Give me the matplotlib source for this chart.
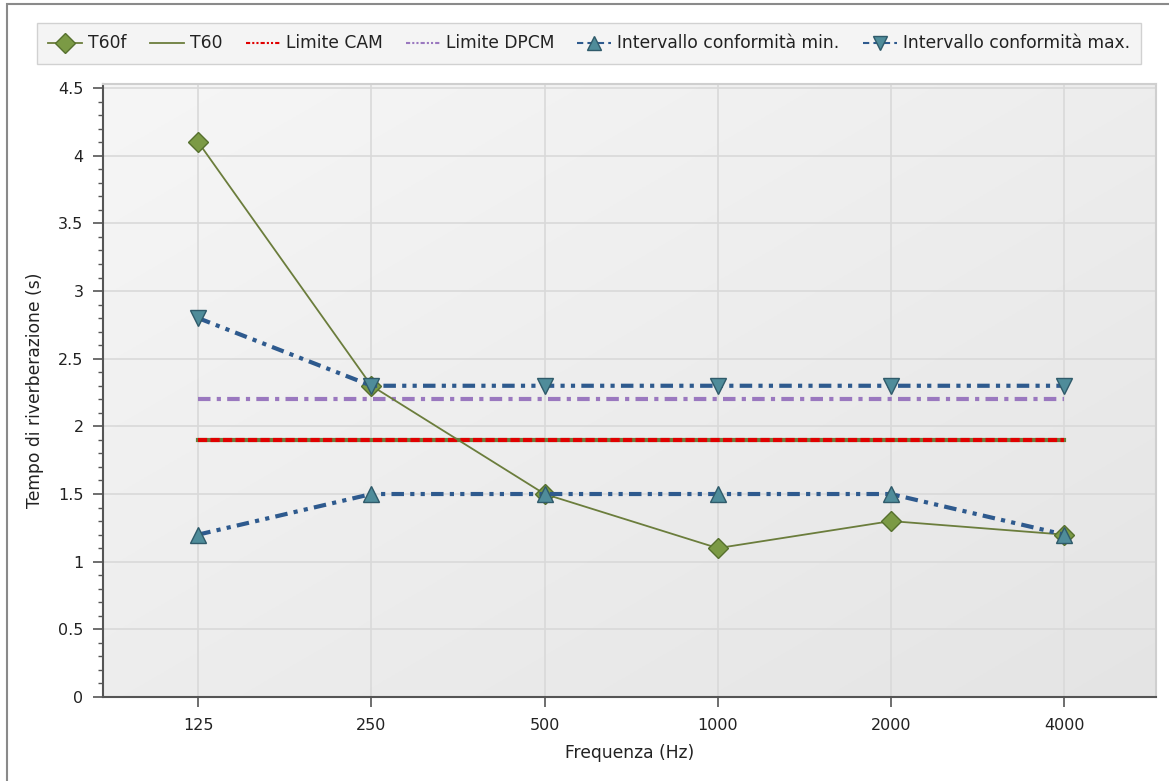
import matplotlib
matplotlib.use("Agg")
import matplotlib.pyplot as plt
import numpy as np
from matplotlib.lines import Line2D
from matplotlib.patches import Rectangle
from matplotlib.ticker import MultipleLocator, FuncFormatter

freqs = ["125", "250", "500", "1000", "2000", "4000"]
t60 = [4.1, 2.3, 1.5, 1.1, 1.3, 1.2]
lim_cam = [1.9, 1.9, 1.9, 1.9, 1.9, 1.9]
lim_dpcm = [2.2, 2.2, 2.2, 2.2, 2.2, 2.2]
conf_min = [1.2, 1.5, 1.5, 1.5, 1.5, 1.2]
conf_max = [2.8, 2.3, 2.3, 2.3, 2.3, 2.3]

plt.rcParams['font.family'] = ['DejaVu Sans']
W, H = 1169, 781
fig = plt.figure(figsize=(W/100, H/100), dpi=100)

# outer border (left and top visible)
fig.patches.append(Rectangle((7/W, -0.01), 1.02, 1 - 4/H + 0.01, transform=fig.transFigure,
                             fill=False, edgecolor='#8a8a8a', lw=1.5))

L, R, T, B = 103, 1156, 84, 697
ax = fig.add_axes([L/W, 1 - B/H, (R-L)/W, (B-T)/H])

x = np.arange(len(freqs))

# gradient background (light top-left, darker bottom-right)
grad = np.linspace(0, 1, 256)
gx, gy = np.meshgrid(grad, grad)
g = 0.5*gx + 0.5*gy
img = np.empty((256, 256, 3))
c0, c1 = 0.965, 0.895
for c in range(3):
    img[..., c] = c0 + (c1 - c0) * g

ax.imshow(img, extent=[0, 1, 0, 1], transform=ax.transAxes, aspect='auto', zorder=0, origin='upper')
ax.set_xlim(-0.55, 5.53)
ax.set_ylim(0, 4.53)
ax.set_xticks(x)
ax.set_xticklabels(freqs)
ax.yaxis.set_major_locator(MultipleLocator(0.5))
ax.yaxis.set_minor_locator(MultipleLocator(0.1))
ax.yaxis.set_major_formatter(FuncFormatter(lambda v, p: f"{v:g}"))
ax.grid(True, color='#d9d9d9', lw=1.2, zorder=1)
ax.set_axisbelow(True)

for s in ['top', 'right']:
    ax.spines[s].set_color('#cfcfcf')
    ax.spines[s].set_linewidth(1.5)
for s in ['left', 'bottom']:
    ax.spines[s].set_color('#555555')
    ax.spines[s].set_linewidth(1.5)
ax.tick_params(axis='both', which='major', length=7, width=1.2, color='#555555',
               labelsize=11.5, labelcolor='#222222')
ax.tick_params(axis='y', which='major', pad=7)
ax.tick_params(axis='y', which='minor', length=3.6, width=1, color='#555555')
ax.tick_params(axis='x', pad=8)

olive = '#6b7d3c'
blue = '#2e5a8e'
dd = (3, 1.5, 1, 1.5, 1, 1.5)

# Limite CAM (olive under red)
ax.plot(x, lim_cam, color=olive, lw=3, zorder=3)
ax.plot(x, lim_cam, color='#e00000', lw=3, dashes=(2.2, 0.8), zorder=3.1)
# Limite DPCM
ax.plot(x, lim_dpcm, color='#9a78bf', lw=3, dashes=(3, 1.5, 1, 1.5), zorder=3)
# T60 line
ax.plot(x, t60, color=olive, lw=1.3, zorder=4)
# T60f markers
ax.plot(x, t60, ls='none', marker='D', ms=10, mfc='#7b9a45', mec='#56702e', mew=1, zorder=5)
# conformity intervals
ax.plot(x, conf_min, color=blue, lw=3, dashes=dd, marker='^', ms=11,
        mfc='#4f8c9a', mec='#2f5a6a', mew=1, zorder=6)
ax.plot(x, conf_max, color=blue, lw=3, dashes=dd, marker='v', ms=11,
        mfc='#4f8c9a', mec='#2f5a6a', mew=1, zorder=6)

ax.set_ylabel("Tempo di riverberazione (s)", fontsize=12.3, color='#222222', labelpad=10)
ax.set_xlabel("Frequenza (Hz)", fontsize=12.3, color='#222222', labelpad=8)

handles = [
    Line2D([], [], color=olive, lw=1.3, marker='D', ms=10, mfc='#7b9a45', mec='#56702e'),
    Line2D([], [], color=olive, lw=1.3),
    Line2D([], [], color='#e00000', lw=1.5, dashes=(2, 1, 1, 1, 1, 1)),
    Line2D([], [], color='#9a78bf', lw=1.5, dashes=(2, 1, 1, 1, 1, 1)),
    Line2D([], [], color=blue, lw=1.5, dashes=(3, 2), marker='^', ms=10, mfc='#4f8c9a', mec='#2f5a6a'),
    Line2D([], [], color=blue, lw=1.5, dashes=(3, 2), marker='v', ms=10, mfc='#4f8c9a', mec='#2f5a6a'),
]
labels = ["T60f", "T60", "Limite CAM", "Limite DPCM",
          "Intervallo conformità min.", "Intervallo conformità max."]
leg = fig.legend(handles, labels, loc='center', bbox_to_anchor=(589/W, 1 - 43.5/H), ncol=6,
                 fontsize=12.3, frameon=True, fancybox=False, handlelength=2.0, handletextpad=0.35,
                 columnspacing=1.35, borderpad=0.65, borderaxespad=0)
leg.get_frame().set_facecolor('#f2f2f2')
leg.get_frame().set_edgecolor('#c8c8c8')
for t in leg.get_texts():
    t.set_color('#222222')

fig.savefig("out.png", dpi=100)
